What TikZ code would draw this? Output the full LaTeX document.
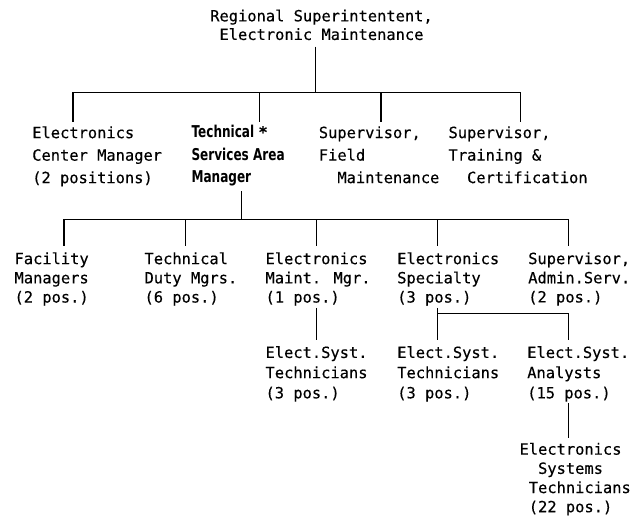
\documentclass[tikz,border=0pt]{standalone}
\usepackage{fontspec}
\newfontfamily\orgmono[FakeBold=0.3]{DejaVu Sans Mono}
\newfontfamily\orgbold[FakeStretch=0.74]{DejaVu Sans}
\newcommand{\indentby}[1]{\hspace*{#1\dimexpr0.602em\relax}}

\begin{document}
\begin{tikzpicture}[x=1pt, y=-1pt, line width=1.1pt,
	box/.style={anchor=north west, inner sep=0pt, align=left},
	lvtwo/.style={box, font=\orgmono\fontsize{15.4}{22.5}\selectfont},
	lvthree/.style={box, font=\orgmono\fontsize{15.4}{19.2}\selectfont},
	lvfour/.style={box, font=\orgmono\fontsize{15.4}{20.2}\selectfont}]
	\useasboundingbox (0,0) rectangle (633,520);
	\node[box, anchor=north, align=center, font=\orgmono\fontsize{15.4}{18.6}\selectfont] (rse) at (321.5,9) {Regional Superintentent,\\Electronic Maintenance};

	\node[lvtwo] (ecm) at (31.7,125.8) {Electronics\\Center Manager\\(2 positions)};
	\node[lvtwo, font=\orgbold\bfseries\fontsize{16.3}{22.5}\selectfont] (tsam) at (191,124.6) {Technical\ {\orgmono\fontsize{15.4}{22.5}\selectfont*}\\Services Area\\Manager};
	\node[lvtwo] (sfm) at (318.3,125.8) {Supervisor,\\Field\\\indentby{2}Maintenance};
	\node[lvtwo] (stc) at (448,125.8) {Supervisor,\\Training \&\\\indentby{2}Certification};

	\node[lvthree] (fm) at (14,251.8) {Facility\\Managers\\(2 pos.)};
	\node[lvthree] (tdm) at (144,251.8) {Technical\\Duty Mgrs.\\(6 pos.)};
	\node[lvthree] (emm) at (265,251.8) {Electronics\\Maint. Mgr.\\(1 pos.)};
	\node[lvthree] (es) at (396.7,251.8) {Electronics\\Specialty\\(3 pos.)};
	\node[lvthree] (sas) at (527.7,251.8) {Supervisor,\\Admin.Serv.\\(2 pos.)};

	\node[lvfour] (est1) at (265,345.6) {Elect.Syst.\\Technicians\\(3 pos.)};
	\node[lvfour] (est2) at (396.7,345.6) {Elect.Syst.\\Technicians\\(3 pos.)};
	\node[lvfour] (esa) at (526.7,345.6) {Elect.Syst.\\Analysts\\(15 pos.)};
	\node[lvthree] (est3) at (519,442.3) {Electronics\\\indentby{2}Systems\\\indentby{1}Technicians\\\indentby{1}(22 pos.)};

	\coordinate (j1) at (315.7,92.7);
	\coordinate (j2) at (241.7,219.3);
	\coordinate (j3) at (437.5,313.3);

	\draw[shorten <=6pt] (rse.south -| j1) -- (j1);
	\draw[shorten >=4pt] (j1) -| ([xshift=41.3pt]ecm.north west);
	\draw[shorten >=3pt] (j1) -| ([xshift=68.3pt]tsam.north west);
	\draw[shorten >=4pt] (j1) -| ([xshift=62.7pt]sfm.north west);
	\draw[shorten >=4pt] (j1) -| ([xshift=72.7pt]stc.north west);

	\draw[shorten <=4.5pt] (tsam.south -| j2) -- (j2);
	\draw[shorten >=6pt] (j2) -| ([xshift=50pt]fm.north west);
	\draw[shorten >=6pt] (j2) -| ([xshift=41.5pt]tdm.north west);
	\draw[shorten >=6pt] (j2) -| ([xshift=51.5pt]emm.north west);
	\draw[shorten >=6pt] (j2) -| ([xshift=40.8pt]es.north west);
	\draw[shorten >=6pt] (j2) -| ([xshift=40.6pt]sas.north west);

	\draw[shorten <=1.5pt, shorten >=5.6pt] ([xshift=51.5pt]emm.south west) -- ([xshift=51.5pt]est1.north west);
	\draw[shorten <=1.5pt, shorten >=5.6pt] ([xshift=40.8pt]es.south west) -- ([xshift=40.8pt]est2.north west);
	\draw[shorten >=5.6pt] (j3) -| ([xshift=41.6pt]esa.north west);
	\draw[shorten <=1pt, shorten >=4pt] ([xshift=41.6pt]esa.south west) -- ([xshift=49.3pt]est3.north west);
\end{tikzpicture}
\end{document}
